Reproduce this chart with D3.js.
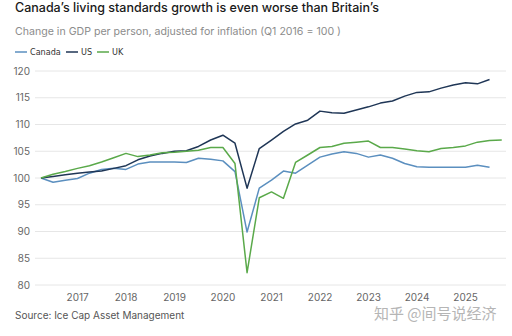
<!DOCTYPE html>
<html>
<head>
<meta charset="utf-8">
<script src="https://cdn.jsdelivr.net/npm/d3@7"></script>
<style>
  body { margin: 0; background: #fff; }
  svg { display: block; font-family: Inter, "Noto Sans", sans-serif; }
</style>
</head>
<body>
<svg id="chart" width="512" height="336"></svg>
<script>
// Quarterly GDP per person, Q1 2016 = 100
const startYear = 2016;
const canada = [100, 99.2, 99.6, 99.9, 100.9, 101.6, 101.8, 101.6, 102.6, 103.0,
  103.0, 103.0, 102.9, 103.7, 103.5, 103.2, 101.2, 89.9, 98.1, 99.6,
  101.3, 100.9, 102.4, 103.9, 104.5, 104.9, 104.6, 103.9, 104.3, 103.7,
  102.7, 102.1, 102.0, 102.0, 102.0, 102.0, 102.4, 102.0];
const us = [100, 100.3, 100.6, 100.9, 101.1, 101.3, 101.8, 102.3, 103.4, 104.1,
  104.6, 105.0, 105.1, 105.9, 107.1, 108.0, 106.5, 98.1, 105.5, 107.1,
  108.7, 110.1, 110.8, 112.5, 112.2, 112.1, 112.7, 113.3, 114.0, 114.4,
  115.3, 116.0, 116.1, 116.8, 117.4, 117.8, 117.6, 118.4];
const uk = [100, 100.7, 101.2, 101.8, 102.3, 103.0, 103.8, 104.6, 104.0, 104.3,
  104.7, 104.8, 105.0, 105.2, 105.7, 105.7, 102.7, 82.3, 96.3, 97.4,
  96.2, 102.9, 104.3, 105.7, 105.9, 106.5, 106.7, 106.9, 105.7, 105.7,
  105.4, 105.1, 104.9, 105.5, 105.7, 106.0, 106.7, 107.0, 107.1];
const yTicks = [80, 85, 90, 95, 100, 105, 110, 115, 120];
const yearTicks = [2017, 2018, 2019, 2020, 2021, 2022, 2023, 2024, 2025];

const series = [
  { name: "Canada", values: canada, color: "#5b8fbf" },
  { name: "US", values: us, color: "#1f3656" },
  { name: "UK", values: uk, color: "#5aa94a" }
];

// quarter index -> date at end of that quarter
function quarterDate(i) {
  return new Date(startYear, i * 3 + 3, 0);
}

const svg = d3.select("#chart");

const x = d3.scaleTime()
  .domain([new Date(2016, 1, 15), new Date(2025, 10, 1)])
  .range([35, 506]);
const y = d3.scaleLinear().domain([80, 120]).range([285, 71]);

// Title, subtitle
svg.append("text")
  .attr("x", 15).attr("y", 12)
  .style("font-size", "12.5px").style("font-weight", 500)
  .attr("fill", "#1a1a1a")
  .text("Canada\u2019s living standards growth is even worse than Britain\u2019s");
svg.append("text")
  .attr("x", 15).attr("y", 35)
  .style("font-size", "10.6px")
  .attr("fill", "#8c8c8c")
  .text("Change in GDP per person, adjusted for inflation (Q1 2016 = 100 )");

// Legend
let legendX = [15, 66, 97];
series.forEach(function(s, i) {
  let g = svg.append("g").attr("transform", "translate(" + legendX[i] + ",52)");
  g.append("line")
    .attr("x1", 0).attr("x2", 12)
    .attr("stroke", s.color).attr("stroke-width", 1.5);
  g.append("text")
    .attr("x", 15).attr("y", 3)
    .style("font-family", "'Liberation Sans Narrow', 'DejaVu Sans Condensed', sans-serif")
    .style("font-size", "9px")
    .attr("fill", "#333")
    .text(s.name);
});

// Gridlines + y labels
svg.append("g").selectAll("line")
  .data(yTicks)
  .enter().append("line")
  .attr("x1", 35).attr("x2", 506)
  .attr("y1", d => y(d)).attr("y2", d => y(d))
  .attr("stroke", "#e6e6e6").attr("stroke-width", 1);

svg.append("g").selectAll("text")
  .data(yTicks)
  .enter().append("text")
  .attr("x", 30).attr("y", d => y(d) + 3.5)
  .attr("text-anchor", "end")
  .style("font-size", "10px")
  .attr("fill", "#666")
  .text(d => d);

// x labels
svg.append("g").selectAll("text")
  .data(yearTicks)
  .enter().append("text")
  .attr("x", d => x(new Date(d, 0, 1)))
  .attr("y", 301)
  .attr("text-anchor", "middle")
  .style("font-size", "10px")
  .attr("fill", "#666")
  .text(d => d);

// Lines
let line = d3.line()
  .x((d, i) => x(quarterDate(i)))
  .y(d => y(d));

series.forEach(function(s) {
  svg.append("path")
    .datum(s.values)
    .attr("d", line)
    .attr("fill", "none")
    .attr("stroke", s.color)
    .attr("stroke-width", 1.5)
    .attr("stroke-linejoin", "round");
});

// Source + watermark
svg.append("text")
  .attr("x", 15).attr("y", 319)
  .style("font-size", "10px")
  .attr("fill", "#555")
  .text("Source: Ice Cap Asset Management");
svg.append("text")
  .attr("x", 374).attr("y", 319)
  .style("font-family", "'Noto Sans CJK SC', sans-serif")
  .style("font-size", "15px")
  .attr("fill", "#b5b5b5")
  .text("知乎 @间号说经济");
</script>
</body>
</html>
